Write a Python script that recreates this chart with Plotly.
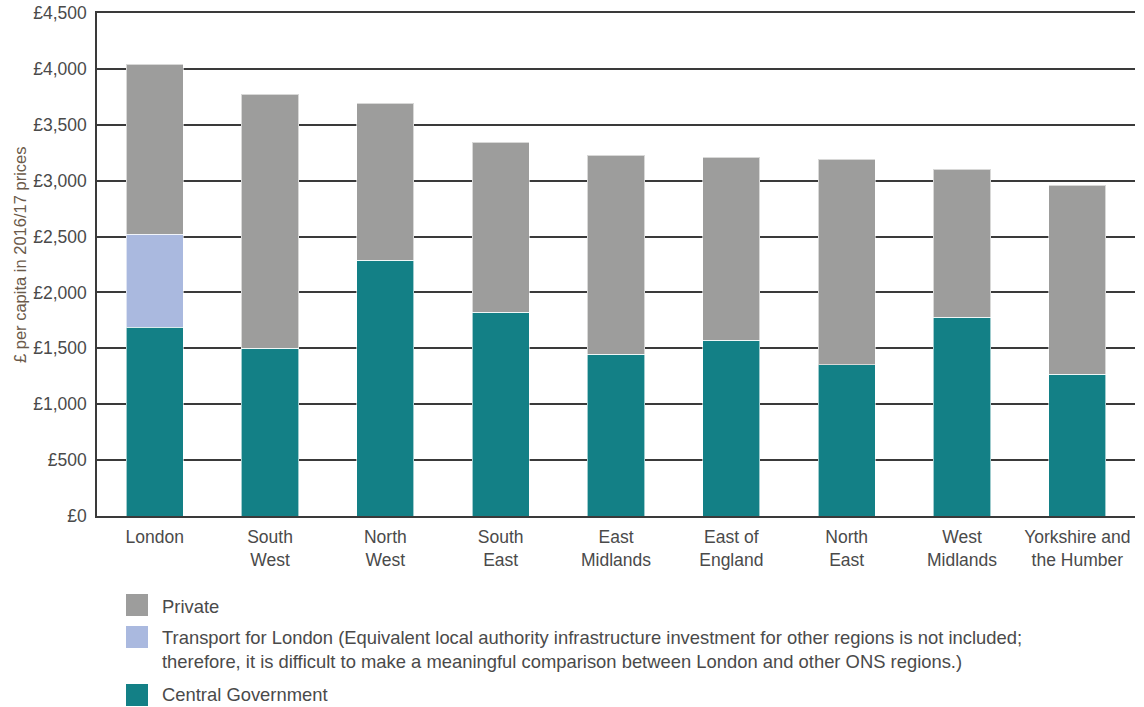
import plotly.graph_objects as go

regions = ["London", "South<br>West", "North<br>West", "South<br>East", "East<br>Midlands",
           "East of<br>England", "North<br>East", "West<br>Midlands", "Yorkshire and<br>the Humber"]
central_gov = [1690, 1503, 2290, 1825, 1449, 1574, 1351, 1780, 1270]
tfl = [832, 0, 0, 0, 0, 0, 0, 0, 0]
private = [1521, 2272, 1404, 1520, 1780, 1637, 1842, 1324, 1691]
y_ticks = [0, 500, 1000, 1500, 2000, 2500, 3000, 3500, 4000, 4500]
y_tick_labels = ["£0", "£500", "£1,000", "£1,500", "£2,000", "£2,500", "£3,000", "£3,500", "£4,000", "£4,500"]
legend_labels = [
    "Private",
    "Transport for London (Equivalent local authority infrastructure investment for other regions is not included;<br>"
    "therefore, it is difficult to make a meaningful comparison between London and other ONS regions.)",
    "Central Government",
]

C_PRIV = "#9d9d9c"
C_TFL = "#aab9df"
C_CG = "#138086"
FONT = "Liberation Sans, Arial, sans-serif"
TXT = "#4a4a4a"

W, H = 1144, 707
L, R, T, B = 97, 9, 13, 191
plot_w = W - L - R
plot_h = H - T - B

fig = go.Figure()
line = dict(color="rgba(255,255,255,0.6)", width=1)
fig.add_trace(go.Bar(x=regions, y=central_gov, name="Central Government", marker=dict(color=C_CG, line=line)))
fig.add_trace(go.Bar(x=regions, y=tfl, name="Transport for London", marker=dict(color=C_TFL, line=line)))
fig.add_trace(go.Bar(x=regions, y=private, name="Private", marker=dict(color=C_PRIV, line=line)))

fig.update_layout(
    barmode="stack",
    bargap=0.505,
    width=W, height=H,
    margin=dict(l=L, r=R, t=T, b=B, autoexpand=False),
    plot_bgcolor="white", paper_bgcolor="white",
    showlegend=False,
    font=dict(family=FONT, color=TXT, size=17),
)
fig.update_yaxes(
    range=[0, 4500], tickvals=y_ticks, ticktext=y_tick_labels,
    showgrid=True, gridcolor="#3a3a3a", gridwidth=1.5,
    showline=True, linecolor="#3a3a3a", linewidth=1.5,
    zeroline=False, ticks="", ticklen=0, automargin=False, ticklabelstandoff=5,
    tickfont=dict(size=17.5, color=TXT),
)
fig.update_xaxes(
    showline=True, linecolor="#3a3a3a", linewidth=1.5, mirror=True,
    tickfont=dict(size=17.5, color=TXT), ticks="", automargin=False, ticklabelstandoff=4,
)


def px_x(px):
    return (px - L) / plot_w


def px_y(py):
    return (H - B - py) / plot_h


shapes = []
annots = []
squares = [(C_PRIV, 594, 616, 606), (C_TFL, 626, 648, 649), (C_CG, 684, 706, 694)]
for (color, top, bot, yc), text in zip(squares, legend_labels):
    shapes.append(dict(type="rect", xref="paper", yref="paper",
                       x0=px_x(126), x1=px_x(148), y0=px_y(bot), y1=px_y(top),
                       fillcolor=color, line=dict(width=0)))
    annots.append(dict(xref="paper", yref="paper", x=px_x(160), y=px_y(yc),
                       xanchor="left", yanchor="middle", align="left", showarrow=False,
                       text=text, font=dict(size=18.4, color=TXT, family=FONT)))

annots.append(dict(xref="paper", yref="paper", x=px_x(20), y=px_y(255),
                   xanchor="center", yanchor="middle", textangle=-90, showarrow=False,
                   text="£ per capita in 2016/17 prices",
                   font=dict(size=16.5, color="#6b5a4a", family=FONT)))
fig.update_layout(shapes=shapes, annotations=annots)

fig.write_html("out.html", config={"displayModeBar": False},
               post_script="document.body.style.margin='0';document.body.style.overflow='hidden';")
